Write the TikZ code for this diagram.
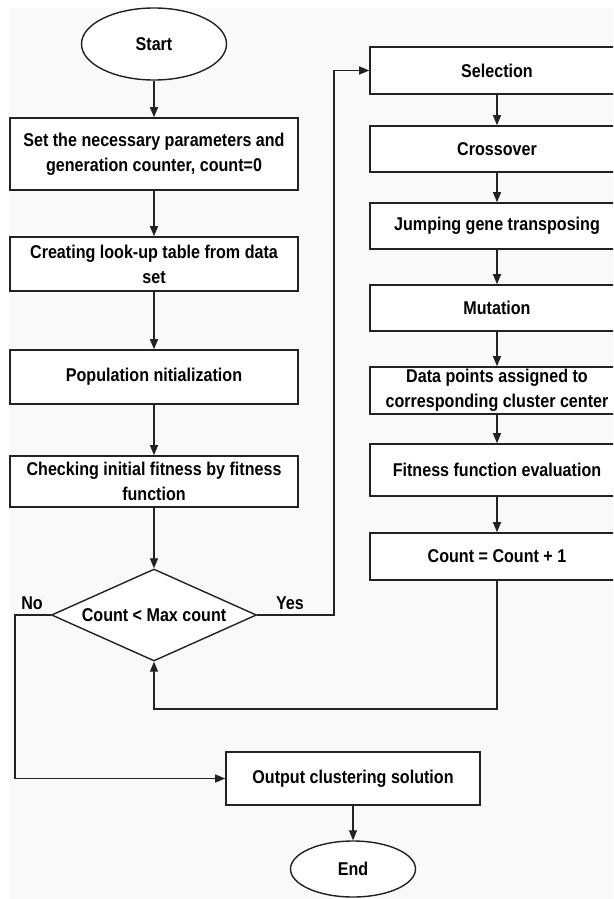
\documentclass[tikz,border=0pt]{standalone}
\usepackage{fontspec}
\setmainfont{Liberation Sans}[FakeStretch=0.87]
\usetikzlibrary{shapes.geometric,arrows.meta}
\definecolor{bgc}{HTML}{F9F9F9}
\definecolor{ln}{HTML}{222222}
\tikzset{
  box/.style={draw=ln, line width=1.6pt, fill=white, rectangle, inner sep=0pt,
    align=center, font=\fontsize{18.5}{25}\selectfont\bfseries},
  term/.style={draw=ln, line width=1.4pt, fill=white, ellipse, inner sep=0pt,
    font=\fontsize{18.5}{25}\selectfont\bfseries},
  dec/.style={draw=ln, line width=1.4pt, fill=white, diamond, aspect=2.23, inner sep=0pt,
    font=\fontsize{18.5}{25}\selectfont\bfseries},
  conn/.style={draw=ln, line width=1.2pt, -{Triangle[length=10pt,width=8pt]}},
  lbl/.style={font=\fontsize{18.5}{25}\selectfont\bfseries, inner sep=0pt}
}
\begin{document}
\begin{tikzpicture}[x=1pt,y=-1pt]
\useasboundingbox (0,0) rectangle (613,899);
\clip (0,0) rectangle (613,899);
\fill[white] (0,0) rectangle (613,899);
\fill[bgc] (10,8) rectangle (613,899);
% left column
\node[term, minimum width=145pt, minimum height=72pt] (start) at (154,44) {Start};
\node[box, minimum width=288pt, minimum height=72pt] (b1) at (154,154) {Set the necessary parameters and\\generation counter, count=0};
\node[box, minimum width=288pt, minimum height=54pt] (b2) at (154,264) {Creating look-up table from data\\set};
\node[box, minimum width=288pt, minimum height=54pt] (b3) at (154,377) {Population nitialization};
\node[box, minimum width=288pt, minimum height=51pt] (b4) at (154,481.5) {Checking initial fitness by fitness\\function};
\node[dec, minimum width=205pt, minimum height=92pt] (d) at (154,615) {Count < Max count};
\node[box, minimum width=254pt, minimum height=53pt] (out) at (353,778.5) {Output clustering solution};
\node[term, minimum width=125pt, minimum height=56pt] (end) at (353,869) {End};
% right column
\node[box, minimum width=254pt, minimum height=47pt] (sel) at (497,70.5) {Selection};
\node[box, minimum width=254pt, minimum height=46pt] (cro) at (497,149) {Crossover};
\node[box, minimum width=254pt, minimum height=46pt] (jum) at (497,226) {Jumping gene transposing};
\node[box, minimum width=254pt, minimum height=46pt] (mut) at (497,308) {Mutation};
\node[box, minimum width=254pt, minimum height=47pt] (dat) at (497,390.5) {Data points assigned to\\corresponding cluster center};
\node[box, minimum width=254pt, minimum height=52pt] (fit) at (497,470) {Fitness function evaluation};
\node[box, minimum width=254pt, minimum height=47pt] (cnt) at (497,556.5) {Count = Count + 1};
% labels
\node[lbl] (no) at (32,603) {No};
\node[lbl] (yes) at (290,603) {Yes};
% coordinates
\coordinate (yc) at (334,615);
\coordinate (nc) at (15,615);
\coordinate (fb) at (497,709);
% connectors
\draw[conn] (start) -- (b1);
\draw[conn] (b1) -- (b2);
\draw[conn] (b2) -- (b3);
\draw[conn] (b3) -- (b4);
\draw[conn] (b4) -- (d);
\draw[conn] (d.east) -- (yc) |- (sel.west);
\draw[conn] (sel) -- (cro);
\draw[conn] (cro) -- (jum);
\draw[conn] (jum) -- (mut);
\draw[conn] (mut) -- (dat);
\draw[conn] (dat) -- (fit);
\draw[conn] (fit) -- (cnt);
\draw[conn] (cnt.south) -- (fb) -| (d.south);
\draw[conn] (d.west) -- (nc) |- (out.west);
\draw[conn] (out) -- (end);
\end{tikzpicture}
\end{document}
